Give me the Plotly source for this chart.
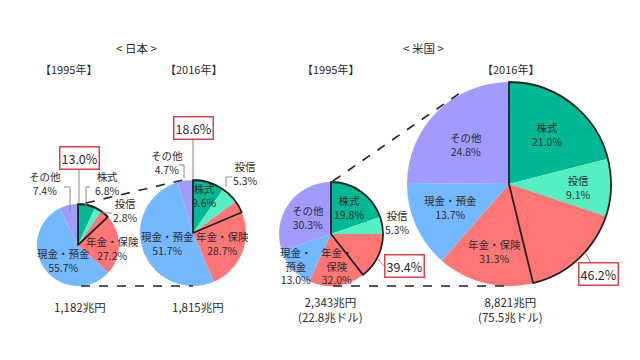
import plotly.graph_objects as go

W, H = 640, 360

# ---- data ----
categories = ["株式", "投信", "年金・保険", "現金・預金", "その他"]
jp_1995 = [6.8, 2.8, 27.2, 55.7, 7.4]
jp_2016 = [9.6, 5.3, 28.7, 51.7, 4.7]
us_1995 = [19.8, 5.3, 32.0, 13.0, 30.3]
us_2016 = [21.0, 9.1, 31.3, 13.7, 24.8]
risk_share = [13.0, 18.6, 39.4, 46.2]          # boxed percentages (outlined wedge)
totals = ["1,182兆円", "1,815兆円", "2,343兆円<br>(22.8兆ドル)", "8,821兆円<br>(75.5兆ドル)"]
years = ["【1995年】", "【2016年】", "【1995年】", "【2016年】"]
groups = ["< 日本 >", "< 米国 >"]

colors = ["#00b894", "#55efc4", "#ff7675", "#74b9ff", "#a29bfe"]
FONT = "Noto Sans CJK JP"
TXT = "#2b2b2b"

# ---- layout geometry (pixels) ----
pies = [(78, 245, 41), (193, 233, 53), (331, 234, 52), (509, 184, 102)]
series = [jp_1995, jp_2016, us_1995, us_2016]


def px(x):
    return x / W


def py(y):
    return 1 - y / H


fig = go.Figure()
for (cx, cy, r), vals, rs in zip(pies, series, risk_share):
    dom = dict(x=[px(cx - r), px(cx + r)], y=[py(cy + r), py(cy - r)])
    fig.add_trace(go.Pie(
        values=vals, labels=categories, sort=False, direction="clockwise",
        rotation=0, marker=dict(colors=colors, line=dict(width=0)),
        textinfo="none", domain=dom, showlegend=False, hoverinfo="label+percent"))
    fig.add_trace(go.Pie(
        values=[rs, 100 - rs], labels=["a", "b"], sort=False, direction="clockwise",
        rotation=0,
        marker=dict(colors=["rgba(0,0,0,0)", "rgba(0,0,0,0)"],
                    line=dict(color=["#222222", "rgba(0,0,0,0)"], width=[1.8, 0])),
        textinfo="none", domain=dom, showlegend=False, hoverinfo="skip"))

ann = []


def text(x, y, s, size=10.5, **kw):
    ann.append(dict(x=px(x), y=py(y), xref="paper", yref="paper", text=s,
                    showarrow=False, xanchor="center", yanchor="middle",
                    font=dict(family=FONT, size=size, color=TXT), **kw))


def lbl(i, k):
    return f"{categories[k]}<br>{series[i][k]:.1f}%"


# titles
text(136, 48, groups[0], 11.5)
text(423, 48, groups[1], 11.5)
for x, s in zip([68, 193, 330, 510], years):
    text(x, 69, s, 11)

# label positions per pie (pixels), order = categories
lab_pos = [
    [(107, 183), (125, 210), (112, 248), (63, 260), (45, 183)],
    [(204, 195), (245, 173), (222, 243), (167, 243), (167, 163)],
    [(349, 208), (397, 222), None, None, (308, 218)],
    [(547, 134), (578, 187), (494, 252), (450, 208), (466, 144)],
]
for i, poss in enumerate(lab_pos):
    for k, p in enumerate(poss):
        if p is not None:
            text(p[0], p[1], lbl(i, k), 10.5)
# US 1995 split labels
text(296, 266, f"現金・<br>預金<br>{us_1995[3]:.1f}%", 10.5)
text(337, 266, f"年金・<br>保険<br>{us_1995[2]:.1f}%", 10.5)

# totals
text(80, 307, totals[0], 11.5)
text(198, 307, totals[1], 11.5)
text(330, 309, totals[2], 11.5)
text(510, 309, totals[3], 11.5)

# boxed percentages
box_pos = [(79, 158), (193, 128), (404, 266), (598, 274)]
for (x, y), v in zip(box_pos, risk_share):
    text(x, y, f"{v:.1f}%", 12.5, bordercolor="#d9434a", borderwidth=1.5,
         borderpad=1, bgcolor="white")

shapes = []


def seg(pts, color="#888888", width=1, dash=None):
    d = "M " + " L ".join(f"{px(x)},{py(y)}" for x, y in pts)
    shapes.append(dict(type="path", path=d, xref="paper", yref="paper",
                       line=dict(color=color, width=width, dash=dash)))


# leader lines
seg([(79, 168), (79, 204)])
seg([(64, 187), (70, 187), (70, 212)])
seg([(90, 187), (86, 187), (86, 212)])
seg([(101, 213), (112, 213)])
seg([(193, 138), (193, 180)])
seg([(179, 165), (184, 165), (184, 178)])
seg([(232, 177), (226, 177), (226, 187)])
seg([(378, 259), (384, 266)])
seg([(585, 252), (592, 265)])

# dashed connectors
seg([(86, 203), (183, 180)], "#222222", 1.6, "dash")
seg([(81, 286), (193, 286)], "#222222", 1.6, "dash")
seg([(333, 181), (460, 93)], "#222222", 1.6, "dash")
seg([(333, 286), (509, 286)], "#222222", 1.6, "dash")

fig.update_layout(
    width=W, height=H, margin=dict(l=0, r=0, t=0, b=0),
    paper_bgcolor="white", plot_bgcolor="white",
    annotations=ann, shapes=shapes, showlegend=False,
    font=dict(family=FONT, color=TXT),
)
fig.write_html("out.html", config={"displayModeBar": False},
               post_script="document.body.style.margin='0';document.body.style.overflow='hidden';")
